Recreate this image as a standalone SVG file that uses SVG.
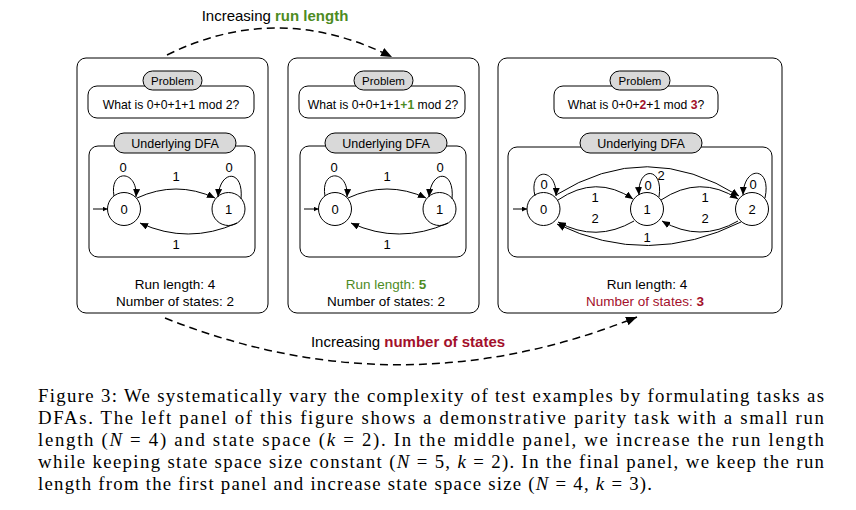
<svg xmlns="http://www.w3.org/2000/svg" width="856" height="510" viewBox="0 0 856 510">
  <style>
    .panel { fill: #fff; stroke: #000; stroke-width: 1; }
    .box { fill: #fff; stroke: #000; stroke-width: 1; }
    .pill { fill: #d9d9d9; stroke: #000; stroke-width: 1; }
    .st { fill: #fff; stroke: #000; stroke-width: 1; }
    .edge { fill: none; stroke: #000; stroke-width: 1; marker-end: url(#ah); }
    .start { fill: none; stroke: #000; stroke-width: 1; marker-end: url(#sh); }
    .dash { fill: none; stroke: #000; stroke-width: 1.5; stroke-dasharray: 8 5; marker-end: url(#bh); }
    text { font-family: "Liberation Sans", Arial, sans-serif; fill: #000; }
    .t { text-anchor: middle; }
    .pt { font-size: 11.5px; }
    .q { font-size: 12.2px; }
    .dl { font-size: 12.5px; }
    .lb { font-size: 13px; }
    .info { font-size: 13.5px; }
    .big { font-size: 15px; }
    .g { fill: #4d8b1f; }
    .r { fill: #a3102b; }
    .b { font-weight: bold; }
    .cap { font-family: "Liberation Serif", "Times New Roman", serif; font-size: 18.8px; }
    .i { font-style: italic; }
  </style>
  <defs>
    <marker id="ah" markerUnits="userSpaceOnUse" markerWidth="9" markerHeight="7" refX="8" refY="3.5" orient="auto">
      <path d="M0,0 L8,3.5 L0,7 z" fill="#000"/>
    </marker>
    <marker id="sh" markerUnits="userSpaceOnUse" markerWidth="6" markerHeight="5" refX="5" refY="2.5" orient="auto">
      <path d="M0,0 L5,2.5 L0,5 z" fill="#000"/>
    </marker>
    <marker id="bh" markerUnits="userSpaceOnUse" markerWidth="12" markerHeight="10" refX="11" refY="4.5" orient="auto">
      <path d="M0,0 L11,4.5 L0,9 z" fill="#000"/>
    </marker>
  </defs>

  <!-- Panel 1 -->
  <g id="panel1">
    <rect class="panel" x="77" y="58" width="191" height="255" rx="9"/>
    <g id="p1-problem">
      <rect class="box" x="88" y="86" width="166" height="32" rx="9"/>
      <rect class="pill" x="143" y="71" width="59" height="19" rx="9.5"/>
      <text class="t pt" x="172.5" y="84.5">Problem</text>
      <text class="t q" x="171" y="108.5">What is 0+0+1+1 mod 2?</text>
    </g>
    <g id="p1-dfa">
      <rect class="box" x="89" y="146" width="166" height="111" rx="9"/>
      <rect class="pill" x="114" y="133" width="122" height="20" rx="10"/>
      <text class="t dl" x="175" y="147.5">Underlying DFA</text>
    </g>
    <g id="p1-s0">
      <circle class="st" cx="124" cy="209" r="16.5"/>
      <text class="t lb" x="124" y="213.5">0</text>
    </g>
    <g id="p1-s1">
      <circle class="st" cx="228.5" cy="209" r="16.5"/>
      <text class="t lb" x="228.5" y="213.5">1</text>
    </g>
    <g id="p1-edges">
      <path class="start" d="M93 209 L107.5 209"/>
      <path class="edge" d="M114 196 C109 169 138 169 136 197"/>
      <path class="edge" d="M241 199 C244 169 220 169 218 197"/>
      <path class="edge" d="M137 198 Q176 180 215 198"/>
      <path class="edge" d="M237 223 Q188 245 140 223"/>
      <text class="t lb" x="123" y="172">0</text>
      <text class="t lb" x="229" y="172">0</text>
      <text class="t lb" x="176" y="181">1</text>
      <text class="t lb" x="176" y="249">1</text>
    </g>
    <text class="t info" x="175" y="289">Run length: 4</text>
    <text class="t info" x="175" y="306">Number of states: 2</text>
  </g>

  <!-- Panel 2 -->
  <g id="panel2">
    <rect class="panel" x="288" y="58" width="191" height="255" rx="9"/>
    <g id="p2-problem">
      <rect class="box" x="299" y="86" width="166" height="32" rx="9"/>
      <rect class="pill" x="354" y="71" width="59" height="19" rx="9.5"/>
      <text class="t pt" x="383.5" y="84.5">Problem</text>
      <text class="t q" x="383" y="108.5">What is 0+0+1+1<tspan class="g b">+1</tspan> mod 2?</text>
    </g>
    <g id="p2-dfa">
      <rect class="box" x="300" y="146" width="166" height="111" rx="9"/>
      <rect class="pill" x="325" y="133" width="122" height="20" rx="10"/>
      <text class="t dl" x="386" y="147.5">Underlying DFA</text>
    </g>
    <g id="p2-s0">
      <circle class="st" cx="335" cy="209" r="16.5"/>
      <text class="t lb" x="335" y="213.5">0</text>
    </g>
    <g id="p2-s1">
      <circle class="st" cx="439.5" cy="209" r="16.5"/>
      <text class="t lb" x="439.5" y="213.5">1</text>
    </g>
    <g id="p2-edges">
      <path class="start" d="M304 209 L318.5 209"/>
      <path class="edge" d="M325 196 C320 169 349 169 347 197"/>
      <path class="edge" d="M452 199 C455 169 431 169 429 197"/>
      <path class="edge" d="M348 198 Q387 180 426 198"/>
      <path class="edge" d="M448 223 Q399 245 351 223"/>
      <text class="t lb" x="334" y="172">0</text>
      <text class="t lb" x="440" y="172">0</text>
      <text class="t lb" x="387" y="181">1</text>
      <text class="t lb" x="387" y="249">1</text>
    </g>
    <text class="t info" x="386" y="289"><tspan class="g">Run length: </tspan><tspan class="g b">5</tspan></text>
    <text class="t info" x="386" y="306">Number of states: 2</text>
  </g>

  <!-- Panel 3 -->
  <g id="panel3">
    <rect class="panel" x="498" y="58" width="284" height="255" rx="9"/>
    <g id="p3-problem">
      <rect class="box" x="554" y="86" width="164" height="32" rx="9"/>
      <rect class="pill" x="610" y="71" width="60" height="19" rx="9.5"/>
      <text class="t pt" x="640" y="84.5">Problem</text>
      <text class="t q" x="636" y="108.5">What is 0+0+<tspan class="r b">2</tspan>+1 mod <tspan class="r b">3</tspan>?</text>
    </g>
    <g id="p3-dfa">
      <rect class="box" x="508" y="147" width="264" height="110" rx="9"/>
      <rect class="pill" x="580" y="133" width="122" height="20" rx="10"/>
      <text class="t dl" x="641" y="147.5">Underlying DFA</text>
    </g>
    <g id="p3-s0">
      <circle class="st" cx="543.5" cy="209" r="16.5"/>
      <text class="t lb" x="543.5" y="213.5">0</text>
    </g>
    <g id="p3-s1">
      <circle class="st" cx="647" cy="209" r="16.5"/>
      <text class="t lb" x="647" y="213.5">1</text>
    </g>
    <g id="p3-s2">
      <circle class="st" cx="752" cy="209" r="16.5"/>
      <text class="t lb" x="752" y="213.5">2</text>
    </g>
    <g id="p3-edges">
      <path class="start" d="M513 209 L527 209"/>
      <path class="edge" d="M535 196 C528 168 557 166 556 196"/>
      <path class="edge" d="M659 197 C664 166 637 166 639 195"/>
      <path class="edge" d="M765 198 C772 166 744 165 743 195"/>
      <path class="edge" d="M556 195 Q647 138 739 196"/>
      <path class="edge" d="M558 200 Q596 174 633 199"/>
      <path class="edge" d="M661 200 Q700 174 738 199"/>
      <path class="edge" d="M738 221 Q700 243 662 221"/>
      <path class="edge" d="M634 221 Q596 243 558 222"/>
      <path class="edge" d="M741 222 Q648 268 557 224"/>
      <text class="t lb" x="544" y="189">0</text>
      <text class="t lb" x="648" y="190">0</text>
      <text class="t lb" x="753" y="189">0</text>
      <text class="t lb" x="661" y="180">2</text>
      <text class="t lb" x="595" y="202">1</text>
      <text class="t lb" x="705" y="202">1</text>
      <text class="t lb" x="595" y="223">2</text>
      <text class="t lb" x="705" y="223">2</text>
      <text class="t lb" x="647" y="242">1</text>
    </g>
    <text class="t info" x="647" y="289">Run length: 4</text>
    <text class="t info" x="645" y="306"><tspan class="r">Number of states: </tspan><tspan class="r b">3</tspan></text>
  </g>

  <!-- Connectors between panels -->
  <g id="connectors">
    <path class="dash" d="M167 55 Q278 0 392 57"/>
    <path class="dash" d="M165 318 Q400 412 637 317"/>
    <text class="t big" x="275" y="20.5">Increasing <tspan class="g b">run length</tspan></text>
    <text class="t big" x="408" y="346.5">Increasing <tspan class="r b">number of states</tspan></text>
  </g>

  <!-- Caption -->
  <g id="caption">
    <text class="cap" x="38" y="402" textLength="786" lengthAdjust="spacing">Figure 3: We systematically vary the complexity of test examples by formulating tasks as</text>
    <text class="cap" x="38" y="424" textLength="786" lengthAdjust="spacing">DFAs. The left panel of this figure shows a demonstrative parity task with a small run</text>
    <text class="cap" x="38" y="446" textLength="786" lengthAdjust="spacing">length (<tspan class="i">N</tspan> = 4) and state space (<tspan class="i">k</tspan> = 2). In the middle panel, we increase the run length</text>
    <text class="cap" x="38" y="468" textLength="786" lengthAdjust="spacing">while keeping state space size constant (<tspan class="i">N</tspan> = 5, <tspan class="i">k</tspan> = 2). In the final panel, we keep the run</text>
    <text class="cap" x="38" y="490" textLength="614" lengthAdjust="spacing">length from the first panel and increase state space size (<tspan class="i">N</tspan> = 4, <tspan class="i">k</tspan> = 3).</text>
  </g>
</svg>
